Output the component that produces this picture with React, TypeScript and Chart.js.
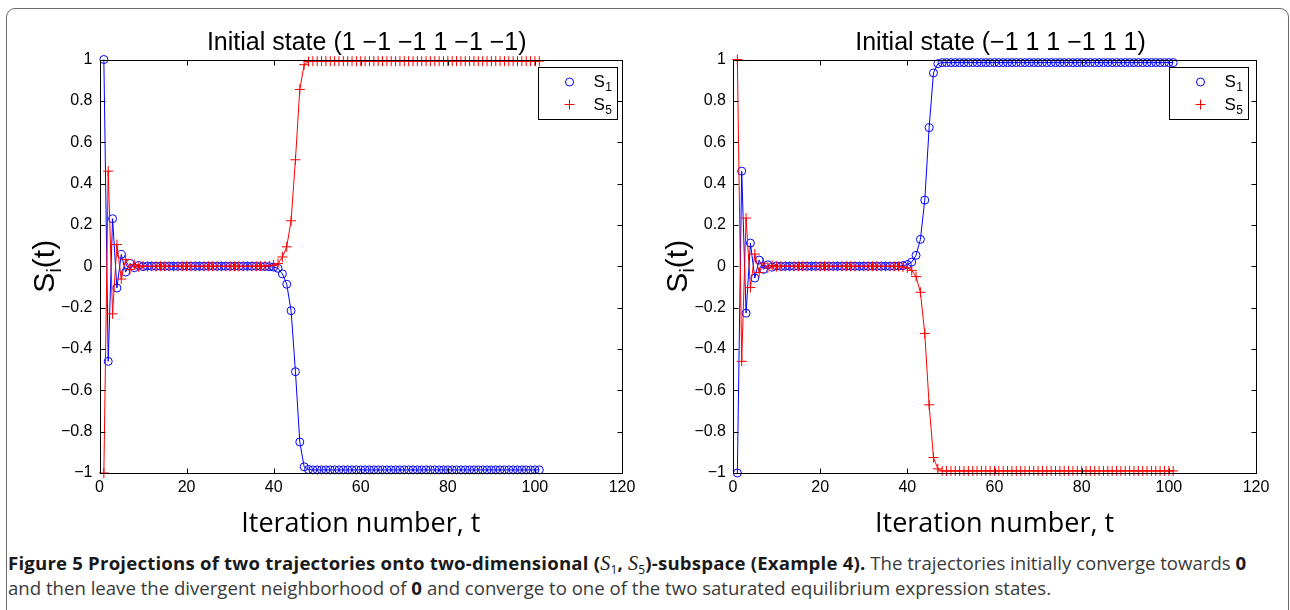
import React, { useEffect, useRef } from 'react';
import { Chart, registerables } from 'chart.js';

Chart.register(...registerables);

// ---------- data ----------
const ITERATIONS = Array.from({ length: 101 }, (_, i) => i + 1);

const X_TICKS = [0, 20, 40, 60, 80, 100, 120];
const X_TICK_LABELS = ['0', '20', '40', '60', '80', '100', '120'];
const Y_TICKS = [-1, -0.8, -0.6, -0.4, -0.2, 0, 0.2, 0.4, 0.6, 0.8, 1];
const Y_TICK_LABELS = ['\u22121', '\u22120.8', '\u22120.6', '\u22120.4', '\u22120.2', '0', '0.2', '0.4', '0.6', '0.8', '1'];

const LEFT_TITLE = 'Initial state (1 \u22121 \u22121 1 \u22121 \u22121)';
const RIGHT_TITLE = 'Initial state (\u22121 1 1 \u22121 1 1)';
const X_LABEL = 'Iteration number, t';

// left panel, S1 (blue circles)
const LEFT_S1 = [
  1, -0.46, 0.23, -0.105, 0.057, -0.028, 0.014, -0.007, 0.004, -0.002,
  0.001, 0, 0, 0, 0, 0, 0, 0, 0, 0,
  0, 0, 0, 0, 0, 0, 0, 0, 0, 0,
  0, 0, 0, 0, 0, 0, -0.001, -0.001, -0.002, -0.004,
  -0.01, -0.037, -0.087, -0.215, -0.51, -0.85, -0.97, -0.983, -0.985, -0.985,
  -0.985, -0.985, -0.985, -0.985, -0.985, -0.985, -0.985, -0.985, -0.985, -0.985,
  -0.985, -0.985, -0.985, -0.985, -0.985, -0.985, -0.985, -0.985, -0.985, -0.985,
  -0.985, -0.985, -0.985, -0.985, -0.985, -0.985, -0.985, -0.985, -0.985, -0.985,
  -0.985, -0.985, -0.985, -0.985, -0.985, -0.985, -0.985, -0.985, -0.985, -0.985,
  -0.985, -0.985, -0.985, -0.985, -0.985, -0.985, -0.985, -0.985, -0.985, -0.985,
  -0.985,
];

// left panel, S5 (red crosses)
const LEFT_S5 = [
  -1, 0.46, -0.23, 0.105, -0.062, 0.033, -0.016, 0.008, -0.004, 0.002,
  -0.001, 0, 0, 0, 0, 0, 0, 0, 0, 0,
  0, 0, 0, 0, 0, 0, 0, 0, 0, 0,
  0, 0, 0, 0, 0, 0, 0.001, 0.001, 0.002, 0.006,
  0.013, 0.045, 0.094, 0.22, 0.515, 0.855, 0.975, 0.99, 0.992, 0.992,
  0.992, 0.992, 0.992, 0.992, 0.992, 0.992, 0.992, 0.992, 0.992, 0.992,
  0.992, 0.992, 0.992, 0.992, 0.992, 0.992, 0.992, 0.992, 0.992, 0.992,
  0.992, 0.992, 0.992, 0.992, 0.992, 0.992, 0.992, 0.992, 0.992, 0.992,
  0.992, 0.992, 0.992, 0.992, 0.992, 0.992, 0.992, 0.992, 0.992, 0.992,
  0.992, 0.992, 0.992, 0.992, 0.992, 0.992, 0.992, 0.992, 0.992, 0.992,
  0.992,
];

// right panel, S1 (blue circles)
const RIGHT_S1 = [
  -1, 0.46, -0.227, 0.112, -0.057, 0.03, -0.015, 0.007, -0.004, 0.002,
  -0.001, 0, 0, 0, 0, 0, 0, 0, 0, 0,
  0, 0, 0, 0, 0, 0, 0, 0, 0, 0,
  0, 0, 0, 0, 0, 0, 0, 0.001, 0.003, 0.008,
  0.02, 0.053, 0.13, 0.32, 0.67, 0.935, 0.98, 0.985, 0.985, 0.985,
  0.985, 0.985, 0.985, 0.985, 0.985, 0.985, 0.985, 0.985, 0.985, 0.985,
  0.985, 0.985, 0.985, 0.985, 0.985, 0.985, 0.985, 0.985, 0.985, 0.985,
  0.985, 0.985, 0.985, 0.985, 0.985, 0.985, 0.985, 0.985, 0.985, 0.985,
  0.985, 0.985, 0.985, 0.985, 0.985, 0.985, 0.985, 0.985, 0.985, 0.985,
  0.985, 0.985, 0.985, 0.985, 0.985, 0.985, 0.985, 0.985, 0.985, 0.985,
  0.985,
];

// right panel, S5 (red crosses)
const RIGHT_S5 = [
  1, -0.46, 0.233, -0.103, 0.059, -0.03, 0.015, -0.008, 0.004, -0.002,
  0.001, 0, 0, 0, 0, 0, 0, 0, 0, 0,
  0, 0, 0, 0, 0, 0, 0, 0, 0, 0,
  0, 0, 0, 0, 0, 0, 0, -0.001, -0.003, -0.008,
  -0.02, -0.05, -0.126, -0.325, -0.67, -0.925, -0.98, -0.99, -0.99, -0.99,
  -0.99, -0.99, -0.99, -0.99, -0.99, -0.99, -0.99, -0.99, -0.99, -0.99,
  -0.99, -0.99, -0.99, -0.99, -0.99, -0.99, -0.99, -0.99, -0.99, -0.99,
  -0.99, -0.99, -0.99, -0.99, -0.99, -0.99, -0.99, -0.99, -0.99, -0.99,
  -0.99, -0.99, -0.99, -0.99, -0.99, -0.99, -0.99, -0.99, -0.99, -0.99,
  -0.99, -0.99, -0.99, -0.99, -0.99, -0.99, -0.99, -0.99, -0.99, -0.99,
  -0.99,
];

// ---------- styling ----------
const BLUE = 'rgb(0,0,255)';
const RED = 'rgb(255,0,0)';
const SANS = "'Liberation Sans', Arial, Helvetica, sans-serif";
const LABEL_FONT = "'Open Sans', 'Liberation Sans', sans-serif";

type PanelProps = {
  left: number;
  width: number;
  height: number;
  yAxisWidth: number;
  padRight: number;
  legendGap: number;
  title: string;
  s1: number[];
  s5: number[];
};

const decorPlugin = {
  id: 'decor',
  afterDraw(chart: any, _args: any, opts: any) {
    const { ctx, chartArea } = chart;
    const { left, right, top, bottom } = chartArea;
    const xs = chart.scales.x;
    const ys = chart.scales.y;
    const L = Math.round(left) + 0.5;
    const R = Math.round(right) + 0.5;
    const T = Math.round(top) + 0.5;
    const B = Math.round(bottom) + 0.5;
    ctx.save();
    ctx.strokeStyle = '#000';
    ctx.lineWidth = 1;
    ctx.strokeRect(L, T, R - L, B - T);
    ctx.beginPath();
    X_TICKS.forEach((v) => {
      const px = Math.round(xs.getPixelForValue(v)) + 0.5;
      ctx.moveTo(px, B);
      ctx.lineTo(px, B - 5);
      ctx.moveTo(px, T);
      ctx.lineTo(px, T + 5);
    });
    Y_TICKS.forEach((v) => {
      const py = Math.round(ys.getPixelForValue(v)) + 0.5;
      ctx.moveTo(L, py);
      ctx.lineTo(L + 5, py);
      ctx.moveTo(R, py);
      ctx.lineTo(R - 5, py);
    });
    ctx.stroke();

    // title
    ctx.fillStyle = '#000';
    ctx.font = `25px ${SANS}`;
    ctx.textAlign = 'center';
    ctx.textBaseline = 'alphabetic';
    ctx.fillText(opts.title, (left + right) / 2 + 6, 50);

    // x label
    ctx.font = `27px ${LABEL_FONT}`;
    ctx.fillText(X_LABEL, (left + right) / 2, 532);

    // y label S_i(t)
    ctx.save();
    ctx.translate(left - 56, (top + bottom) / 2);
    ctx.rotate(-Math.PI / 2);
    ctx.textAlign = 'left';
    const big = `30px ${SANS}`;
    const small = `20px ${SANS}`;
    ctx.font = big;
    const wS = ctx.measureText('S').width;
    const wT = ctx.measureText('(t)').width;
    ctx.font = small;
    const wI = ctx.measureText('i').width;
    const total = wS + wI + wT;
    let cx = -total / 2;
    ctx.font = big;
    ctx.fillText('S', cx, 10);
    cx += wS;
    ctx.font = small;
    ctx.fillText('i', cx, 17);
    cx += wI;
    ctx.font = big;
    ctx.fillText('(t)', cx, 10);
    ctx.restore();

    // legend
    const bw = 79;
    const bh = 52;
    const bx = Math.round(right - opts.legendGap - bw) + 0.5;
    const by = Math.round(top + 7.5) + 0.5;
    ctx.fillStyle = '#fff';
    ctx.fillRect(bx, by, bw, bh);
    ctx.strokeStyle = '#000';
    ctx.strokeRect(bx, by, bw, bh);
    ctx.strokeStyle = BLUE;
    ctx.beginPath();
    ctx.arc(bx + 31, by + 14.5, 4, 0, Math.PI * 2);
    ctx.stroke();
    ctx.strokeStyle = RED;
    ctx.beginPath();
    ctx.moveTo(bx + 26, by + 37);
    ctx.lineTo(bx + 36, by + 37);
    ctx.moveTo(bx + 31, by + 32);
    ctx.lineTo(bx + 31, by + 42);
    ctx.stroke();
    ctx.fillStyle = '#000';
    ctx.textAlign = 'left';
    const entries = [
      { sub: '1', y: by + 19 },
      { sub: '5', y: by + 42 },
    ];
    entries.forEach((e) => {
      ctx.font = `17px ${SANS}`;
      ctx.fillText('S', bx + 55, e.y);
      const w = ctx.measureText('S').width;
      ctx.font = `12px ${SANS}`;
      ctx.fillText(e.sub, bx + 55 + w + 0.5, e.y + 4);
    });
    ctx.restore();
  },
};

function Panel(p: PanelProps) {
  const ref = useRef<HTMLCanvasElement | null>(null);
  useEffect(() => {
    if (!ref.current) return;
    const chart = new Chart(ref.current, {
      type: 'line',
      data: {
        labels: ITERATIONS,
        datasets: [
          {
            label: 'S5',
            data: p.s5,
            borderColor: RED,
            backgroundColor: RED,
            borderWidth: 1,
            pointStyle: 'cross',
            pointRadius: 5,
            pointBorderColor: RED,
            pointBackgroundColor: RED,
            pointBorderWidth: 1,
            pointHoverRadius: 5,
            tension: 0,
            fill: false,
            clip: false,
            order: 1,
          } as any,
          {
            label: 'S1',
            data: p.s1,
            borderColor: BLUE,
            backgroundColor: 'rgba(0,0,0,0)',
            borderWidth: 1,
            pointStyle: 'circle',
            pointRadius: 4,
            pointBorderColor: BLUE,
            pointBackgroundColor: 'rgba(0,0,0,0)',
            pointBorderWidth: 1,
            pointHoverRadius: 4,
            tension: 0,
            fill: false,
            clip: false,
            order: 2,
          } as any,
        ],
      },
      options: {
        responsive: false,
        animation: false,
        events: [],
        layout: {
          padding: { left: 0, right: p.padRight, top: 59.5, bottom: p.height - 473 - 30 },
        },
        plugins: {
          legend: { display: false },
          tooltip: { enabled: false },
          title: { display: false },
          decor: { title: p.title, legendGap: p.legendGap },
        } as any,
        scales: {
          x: {
            type: 'linear',
            min: 0,
            max: 120,
            grid: { display: false, drawTicks: false },
            border: { display: false },
            afterBuildTicks: (s: any) => {
              s.ticks = X_TICKS.map((v) => ({ value: v }));
            },
            afterFit: (s: any) => {
              s.height = 30;
            },
            ticks: {
              autoSkip: false,
              maxRotation: 0,
              padding: 5,
              color: '#000',
              font: { family: SANS, size: 16 },
              callback: (_v: any, i: number) => X_TICK_LABELS[i],
            },
          },
          y: {
            type: 'linear',
            min: -1,
            max: 1,
            grid: { display: false, drawTicks: false },
            border: { display: false },
            afterBuildTicks: (s: any) => {
              s.ticks = Y_TICKS.map((v) => ({ value: v }));
            },
            afterFit: (s: any) => {
              s.width = p.yAxisWidth;
            },
            ticks: {
              autoSkip: false,
              padding: 7,
              color: '#000',
              font: { family: SANS, size: 16 },
              callback: (_v: any, i: number) => Y_TICK_LABELS[i],
            },
          },
        },
      },
      plugins: [decorPlugin],
    });
    return () => chart.destroy();
  }, []);
  return (
    <canvas
      ref={ref}
      width={p.width}
      height={p.height}
      style={{ position: 'absolute', left: p.left, top: 0, width: p.width, height: p.height }}
    />
  );
}

const CAP_FONT = "'Open Sans', 'Noto Sans', sans-serif";
const mathS: React.CSSProperties = { fontFamily: "'Liberation Serif', serif", fontStyle: 'italic', fontWeight: 400, fontSize: '1.08em' };
const subStyle: React.CSSProperties = { fontSize: 12, fontWeight: 400, position: 'relative', top: 4, lineHeight: 0 };
const boldStyle: React.CSSProperties = { color: '#1a1a1a', fontWeight: 700, letterSpacing: '0.2px' };

export default function App() {
  return (
    <div style={{ position: 'absolute', left: 0, top: 0, width: 1290, height: 610, overflow: 'hidden', background: '#fff' }}>
      <div
        style={{
          position: 'absolute',
          left: 6,
          top: 8,
          width: 1283,
          height: 660,
          border: '1.5px solid #6a6a6a',
          borderRadius: 9,
          boxSizing: 'border-box',
        }}
      />
      <Panel left={0} width={645} height={545} yAxisWidth={99.5} padRight={645 - 622} legendGap={5} title={LEFT_TITLE} s1={LEFT_S1} s5={LEFT_S5} />
      <Panel left={645} width={645} height={545} yAxisWidth={88} padRight={645 - 611} legendGap={8} title={RIGHT_TITLE} s1={RIGHT_S1} s5={RIGHT_S5} />
      <div
        style={{
          position: 'absolute',
          left: 8,
          top: 550,
          width: 1275,
          fontFamily: CAP_FONT,
          fontSize: 18.6,
          lineHeight: '25px',
          color: '#3a3a3a',
          whiteSpace: 'nowrap',
        }}
      >
        <div style={{ height: 25 }}>
          <span style={boldStyle}>
            Figure 5 Projections of two trajectories onto two-dimensional (<span style={mathS}>S</span>
            <span style={subStyle}>1</span>, <span style={mathS}>S</span>
            <span style={subStyle}>5</span>)-subspace (Example 4).
          </span>{' '}
          The trajectories initially converge towards <span style={boldStyle}>0</span>
        </div>
        <div style={{ height: 25 }}>
          and then leave the divergent neighborhood of <span style={boldStyle}>0</span> and converge to one of the two saturated
          equilibrium expression states.
        </div>
      </div>
    </div>
  );
}
